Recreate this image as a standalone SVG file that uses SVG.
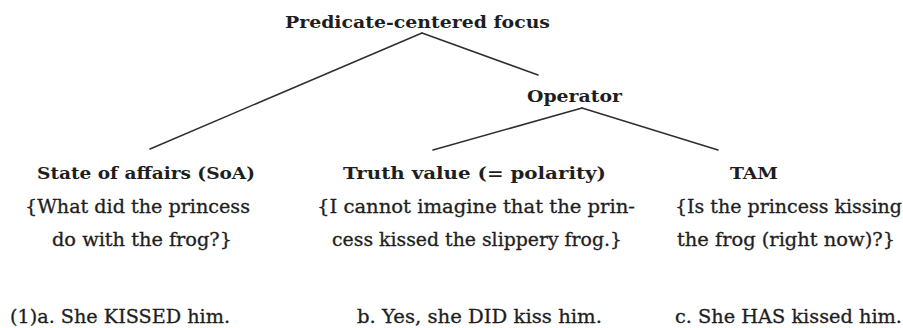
<svg xmlns="http://www.w3.org/2000/svg" width="903" height="328" viewBox="0 0 903 328">
<style>
  text { font-family: "DejaVu Serif", "Liberation Serif", serif; fill: #1e1e1e; }
  .b { font-weight: bold; font-size: 17.5px; }
  .r { font-size: 18px; stroke: #1e1e1e; stroke-width: 0.3px; }
  .edge { stroke: #2e2e2e; stroke-width: 1.5; fill: none; stroke-linecap: round; }
</style>
<rect width="903" height="328" fill="#ffffff"/>
<g id="connectors">
  <line class="edge" x1="422" y1="33" x2="150" y2="149"/>
  <line class="edge" x1="422" y1="33" x2="538" y2="75"/>
  <line class="edge" x1="582" y1="108" x2="433" y2="150"/>
  <line class="edge" x1="582" y1="108" x2="718" y2="150"/>
</g>
<g id="node-predicate-centered-focus">
  <text class="b" x="285" y="28" textLength="265" lengthAdjust="spacingAndGlyphs">Predicate-centered focus</text>
</g>
<g id="node-operator">
  <text class="b" x="527" y="102" textLength="95" lengthAdjust="spacingAndGlyphs">Operator</text>
</g>
<g id="node-soa">
  <text class="b" x="37" y="179" textLength="218" lengthAdjust="spacingAndGlyphs">State of affairs (SoA)</text>
  <text class="r" x="25" y="213" textLength="225" lengthAdjust="spacingAndGlyphs">{What did the princess</text>
  <text class="r" x="52" y="246" textLength="180" lengthAdjust="spacingAndGlyphs">do with the frog?}</text>
</g>
<g id="node-truth-value">
  <text class="b" x="343" y="179" textLength="263" lengthAdjust="spacingAndGlyphs">Truth value (= polarity)</text>
  <text class="r" x="317" y="213" textLength="318" lengthAdjust="spacingAndGlyphs">{I cannot imagine that the prin-</text>
  <text class="r" x="332" y="246" textLength="290" lengthAdjust="spacingAndGlyphs">cess kissed the slippery frog.}</text>
</g>
<g id="node-tam">
  <text class="b" x="730" y="179" textLength="48" lengthAdjust="spacingAndGlyphs">TAM</text>
  <text class="r" x="675" y="213" textLength="227" lengthAdjust="spacingAndGlyphs">{Is the princess kissing</text>
  <text class="r" x="677" y="246" textLength="218" lengthAdjust="spacingAndGlyphs">the frog (right now)?}</text>
</g>
<g id="examples">
  <text class="r" x="10" y="323" textLength="220" lengthAdjust="spacingAndGlyphs">(1)a. She KISSED him.</text>
  <text class="r" x="357" y="323" textLength="245" lengthAdjust="spacingAndGlyphs">b. Yes, she DID kiss him.</text>
  <text class="r" x="675" y="323" textLength="227" lengthAdjust="spacingAndGlyphs">c. She HAS kissed him.</text>
</g>
</svg>
